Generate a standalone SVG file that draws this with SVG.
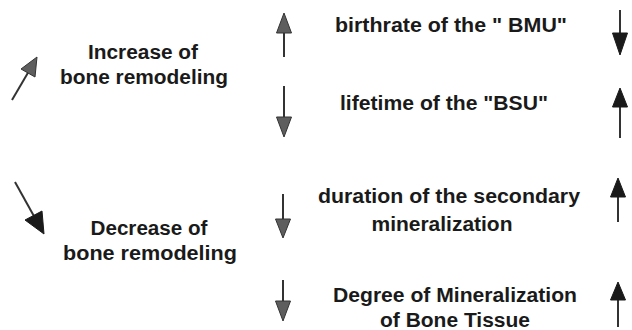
<svg xmlns="http://www.w3.org/2000/svg" width="632" height="330" viewBox="0 0 632 330">
<style>
text{font-family:"Liberation Sans",Arial,Helvetica,sans-serif;font-weight:bold;font-size:20px;fill:#1a1a1a;text-anchor:middle}
.sh{stroke:#333;stroke-width:2;fill:none}
.hg{fill:#5e5e5e;stroke:#333;stroke-width:1}
.hk{fill:#1a1a1a;stroke:#1a1a1a;stroke-width:1}
</style>
<rect width="632" height="330" fill="#fff"/>
<g id="increase">
<text x="143" y="59" textLength="110" lengthAdjust="spacingAndGlyphs">Increase of</text>
<text x="144" y="84" textLength="168" lengthAdjust="spacingAndGlyphs">bone remodeling</text>
</g>
<g id="decrease">
<text x="149" y="235" textLength="117" lengthAdjust="spacingAndGlyphs">Decrease of</text>
<text x="150" y="260" textLength="174" lengthAdjust="spacingAndGlyphs">bone remodeling</text>
</g>
<g id="birthrate">
<text x="451" y="32" textLength="232" lengthAdjust="spacingAndGlyphs">birthrate of the " BMU"</text>
</g>
<g id="lifetime">
<text x="444" y="110" textLength="208" lengthAdjust="spacingAndGlyphs">lifetime of the "BSU"</text>
</g>
<g id="duration">
<text x="449" y="203" textLength="262" lengthAdjust="spacingAndGlyphs">duration of the secondary</text>
<text x="442" y="231" textLength="141" lengthAdjust="spacingAndGlyphs">mineralization</text>
</g>
<g id="degree">
<text x="455" y="302" textLength="244" lengthAdjust="spacingAndGlyphs">Degree of Mineralization</text>
<text x="455" y="327" textLength="150" lengthAdjust="spacingAndGlyphs">of Bone Tissue</text>
</g>
<g id="connectors">
<line class="sh" x1="12" y1="100" x2="29" y2="71"/>
<polygon class="hg" points="37,57 35,77 21,69"/>
<line class="sh" x1="15" y1="182" x2="35" y2="218"/>
<polygon class="hk" points="44,234 42,211 25,220"/>
<line class="sh" x1="284" y1="32" x2="284" y2="57"/>
<polygon class="hg" points="284,13 291.5,33 276.5,33"/>
<line class="sh" x1="284" y1="86" x2="284" y2="118"/>
<polygon class="hg" points="284,137 291.5,117 276.5,117"/>
<line class="sh" x1="283" y1="194" x2="283" y2="220"/>
<polygon class="hg" points="283,238 290.5,219 275.5,219"/>
<line class="sh" x1="283" y1="280" x2="283" y2="302"/>
<polygon class="hg" points="283,321 290.5,301 275.5,301"/>
<line class="sh" x1="620" y1="10" x2="620" y2="34"/>
<polygon class="hk" points="620,55 627.5,33 612.5,33"/>
<line class="sh" x1="620" y1="106" x2="620" y2="138"/>
<polygon class="hk" points="620,88 627.5,107 612.5,107"/>
<line class="sh" x1="618" y1="196" x2="618" y2="222"/>
<polygon class="hk" points="618,178 625.5,197 610.5,197"/>
<line class="sh" x1="618" y1="299" x2="618" y2="327"/>
<polygon class="hk" points="618,282 625.5,300 610.5,300"/>
</g>
</svg>
